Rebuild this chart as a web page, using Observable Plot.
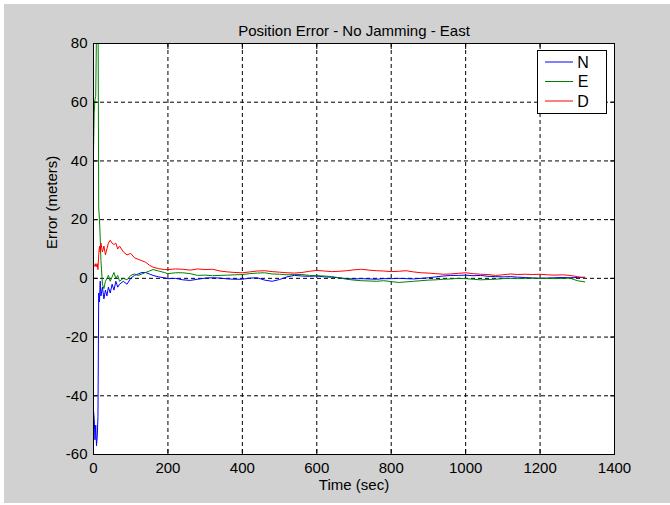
<!DOCTYPE html>
<html><head><meta charset="utf-8">
<script src="https://cdn.jsdelivr.net/npm/d3@7"></script>
<script src="https://cdn.jsdelivr.net/npm/@observablehq/plot@0.6"></script>
<style>
html,body{margin:0;padding:0;background:#fff;}
#chart{position:absolute;left:4px;top:4px;}
#chart svg{display:block;}
</style></head><body><div id="chart"></div>
<script>
const titleText = "Position Error - No Jamming - East";
const xLabel = "Time (sec)";
const yLabel = "Error (meters)";
const seriesNames = ["N", "E", "D"];
const seriesColors = ["#0000ff", "#008000", "#ff0000"];
const xTicks = [0, 200, 400, 600, 800, 1000, 1200, 1400];
const yTicks = [-60, -40, -20, 0, 20, 40, 60, 80];

const time = [0,2,4,6,8,10,12,14,16,18,20,24,28,32,36,40,45,50,55,60,65,70,80,90,100,110,120,130,140,150,160,175,190,
  200,220,240,260,280,300,320,340,360,380,400,420,440,460,480,500,520,540,560,580,600,620,640,660,680,700,720,740,760,780,800,
  820,840,860,880,900,920,940,960,980,1000,1020,1040,1060,1080,1100,1120,1140,1160,1180,1200,1220,1240,1260,1280,1300,1320];

const errN = [-45,-48,-55,-50,-57,-54,-47,-5,-8,-1,-6,-3,-7,-4,-6,-3,-5,-2,-4,-1,-3,-2,-1,-2,0,1,1.5,2,2,1.5,1,0.5,0.2,
  -0.1,0,-0.5,-0.7,-0.3,0.1,0.2,0.1,-0.2,-0.3,
  -0.3,0.1,0.2,-0.6,-1.0,-0.4,0.5,1.0,0.8,0.7,
  0.8,0.5,0.4,0.2,-0.1,-0.2,-0.1,-0.2,-0.3,-0.1,
  -0.1,0,-0.1,-0.2,0,0.2,0.5,0.8,1.0,1.0,
  1.1,0.9,1.0,0.7,0.6,0.5,0.6,0.4,0.3,0.1,
  0,0.1,0.2,0.3,0.2,0.3,0.4];

const errE = [43,57,61,62,85,130,100,24,20,14,6,-2,-3.5,-1,0,1,-1,0.5,2,0,1,-1,0,-0.5,1,1.5,1,1.5,2,2.5,3,2.5,2,
  1.6,1.9,1.9,1.6,1.0,1.1,0.9,1.0,1.1,1.2,
  1.3,1.6,1.8,1.9,1.5,1.4,1.2,1.3,1.3,1.0,
  0.9,0.8,0.6,0.2,-0.3,-0.6,-0.8,-0.9,-1.0,-0.8,
  -1.1,-1.4,-1.2,-1.0,-0.8,-0.6,-0.5,-0.3,-0.2,0,
  -0.1,-0.3,-0.5,-0.4,-0.3,-0.1,0,-0.1,0,0.1,
  0,0,-0.1,0,0.1,-0.8,-1.2];

const errD = [5,4.5,4,5,4,5,3,8,11,9,12,9,11,8,10,12,13,12,11.5,12,10,11,9,8,8.5,7,6.5,6,5.5,4.5,3.8,3.3,3.0,
  3.0,3.2,3.1,2.8,3.2,3.0,3.1,2.5,2.2,2.0,
  1.9,2.2,2.5,2.6,2.3,2.1,1.9,1.8,2.0,2.4,
  2.7,2.5,2.3,2.4,2.6,2.9,3.1,2.8,2.6,2.5,
  2.3,2.4,2.6,2.2,1.9,1.8,1.6,1.4,1.5,1.7,
  1.9,1.6,1.4,1.3,1.0,1.2,1.5,1.3,1.4,1.3,
  1.4,1.2,1.1,1.2,1.0,0.6,0.1];

const seriesValues = [errN, errE, errD];
const rows = [];
seriesNames.forEach((s, k) => {
  time.forEach((t, i) => rows.push({series: s, t, v: seriesValues[k][i]}));
});

const FONT = "'Liberation Sans', Arial, Helvetica, sans-serif";
const gridStyle = {stroke: "#000", strokeOpacity: 1, strokeDasharray: "4,3", strokeWidth: 1};

const svg = Plot.plot({
  width: 666,
  height: 499,
  marginLeft: 89,
  marginRight: 56,
  marginTop: 39,
  marginBottom: 49,
  style: {background: "#d1d1d1", fontFamily: FONT, fontSize: "15px", color: "#000"},
  x: {domain: [0, 1400], label: null},
  y: {domain: [-60, 80], label: null},
  color: {domain: seriesNames, range: seriesColors},
  marks: [
    Plot.frame({fill: "white", stroke: null}),
    Plot.gridX({ticks: xTicks, ...gridStyle}),
    Plot.gridY({ticks: yTicks, ...gridStyle}),
    Plot.line(rows, {x: "t", y: "v", z: "series", stroke: "series", strokeWidth: 1, clip: true}),
    Plot.axisX({ticks: xTicks, tickSize: 0, tickPadding: 8, tickFormat: d => String(d), fontSize: 15, label: null}),
    Plot.axisY({ticks: yTicks, tickSize: 0, tickPadding: 6, tickFormat: d => String(d), fontSize: 15, label: null}),
    Plot.axisX({anchor: "bottom", ticks: xTicks, tickSize: 5, dy: -5, fill: "none", label: null, stroke: "#000"}),
    Plot.axisX({anchor: "top", ticks: xTicks, tickSize: 5, dy: 5, fill: "none", label: null, stroke: "#000"}),
    Plot.axisY({anchor: "left", ticks: yTicks, tickSize: 5, dx: 5, fill: "none", label: null, stroke: "#000"}),
    Plot.axisY({anchor: "right", ticks: yTicks, tickSize: 5, dx: -5, fill: "none", label: null, stroke: "#000"}),
    Plot.frame({stroke: "#000"}),
    Plot.text([titleText], {frameAnchor: "top", dy: -18, fontSize: 15, fill: "#000"}),
    Plot.text([xLabel], {frameAnchor: "bottom", dy: 35, fontSize: 15, fill: "#000"}),
    Plot.text([yLabel], {frameAnchor: "left", dx: -41, rotate: -90, fontSize: 15, fill: "#000"})
  ]
});

// Legend (pixel layout, matching MATLAB-style boxed legend)
const lg = d3.select(svg).append("g").attr("font-family", FONT).attr("font-size", 16);
lg.append("rect").attr("x", 533.5).attr("y", 46.5).attr("width", 69).attr("height", 63)
  .attr("fill", "white").attr("stroke", "#000");
seriesNames.forEach((s, i) => {
  const yy = 58 + i * 19.5;
  lg.append("line").attr("x1", 541).attr("x2", 569).attr("y1", yy).attr("y2", yy)
    .attr("stroke", seriesColors[i]).attr("stroke-width", 1);
  lg.append("text").attr("x", 579).attr("y", yy).attr("dy", "0.36em").attr("fill", "#000").text(s);
});

document.getElementById("chart").appendChild(svg);
</script>
</body></html>
